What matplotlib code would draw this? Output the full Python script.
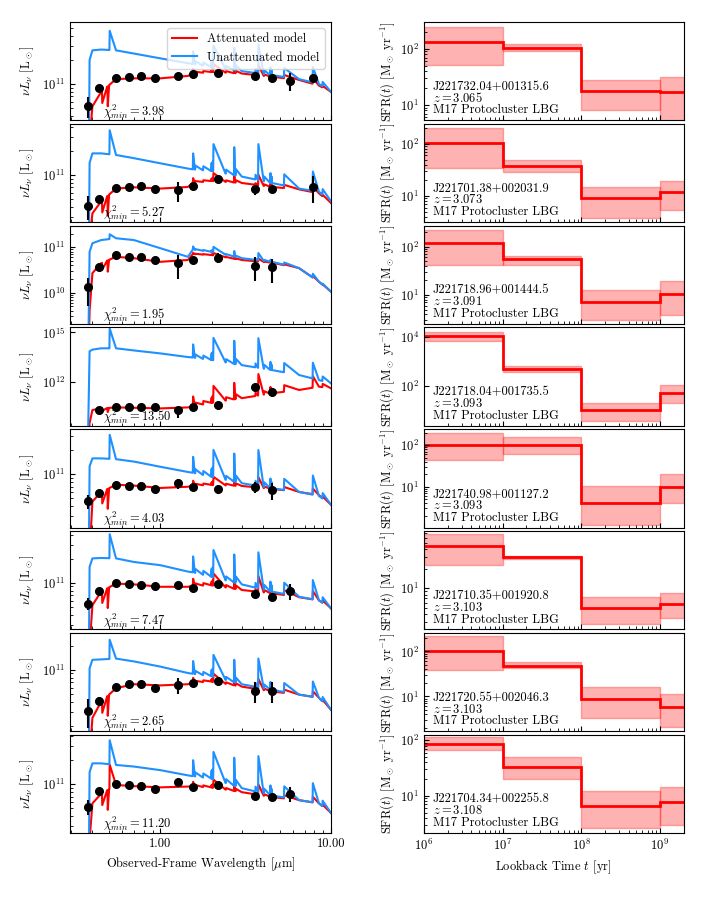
import numpy as np
import matplotlib
matplotlib.use('Agg')
import matplotlib.pyplot as plt
from matplotlib.ticker import NullFormatter, FormatStrFormatter

plt.rcParams['font.family'] = ['cmr10', 'DejaVu Serif']
plt.rcParams['mathtext.fontset'] = 'cm'
plt.rcParams['axes.formatter.use_mathtext'] = True
plt.rcParams['axes.unicode_minus'] = False
plt.rcParams['font.size'] = 9

# ---- galaxy info
names = ["J221732.04+001315.6", "J221701.38+002031.9", "J221718.96+001444.5",
         "J221718.04+001735.5", "J221740.98+001127.2", "J221710.35+001920.8",
         "J221720.55+002046.3", "J221704.34+002255.8"]
redshifts = [3.065, 3.073, 3.091, 3.093, 3.093, 3.103, 3.103, 3.108]
chi2 = [3.98, 5.27, 1.95, 13.50, 4.03, 7.47, 2.65, 11.20]

# ---- photometry (micron, units of 1e10 Lsun), nan = no detection
phot_lam = [0.379, 0.438, 0.548, 0.654, 0.773, 0.925, 1.27, 1.55, 2.17, 3.59, 4.54, 5.76, 7.87]
nan = np.nan
phot = [
    [5.3, 9.0, 12.0, 12.2, 12.6, 11.8, 12.6, 13.2, 13.8, 12.6, 12.0, 10.9, 11.8],
    [4.1, 5.0, 6.8, 7.0, 7.3, 6.7, 6.4, 7.35, 8.8, 6.6, 6.7, nan, 7.0],
    [1.31, 3.7, 6.8, 6.2, 6.1, 5.2, 4.4, 5.2, 5.9, 3.9, 3.6, nan, nan],
    [nan, 1.9, 2.8, 3.0, 3.0, 2.8, 1.8, 3.0, 3.8, 50.0, 25.0, nan, nan],
    [4.6, 5.9, 7.35, 7.2, 7.15, 6.5, 7.7, 6.9, 6.55, 6.9, 6.3, nan, nan],
    [5.5, 7.9, 9.8, 9.7, 9.5, 9.0, 9.4, 8.7, 9.6, 7.2, 6.6, 7.9, nan],
    [3.1, 4.1, 6.1, 6.6, 6.7, 6.0, 6.5, 6.8, 7.2, 5.5, 5.5, nan, nan],
    [5.2, 8.2, 10.0, 9.8, 9.4, 8.8, 10.5, 9.2, 9.9, 7.2, 6.9, 7.6, nan],
]
phot_err = [
    [1.5, 0.5, 0.3, 0.3, 0.3, 0.3, 0.3, 0.4, 0.4, 0.4, 0.5, 2.7, 1.6],
    [1.4, 0.4, 0.3, 0.3, 0.3, 0.3, 1.85, 0.4, 0.6, 0.95, 0.6, nan, 2.6],
    [0.8, 0.6, 0.4, 0.3, 0.3, 0.3, 2.4, 0.5, 1.5, 2.1, 2.0, nan, nan],
    [nan, 0.2, 0.2, 0.2, 0.2, 0.2, 1.2, 0.2, 0.3, 3.0, 2.0, nan, nan],
    [0.95, 0.4, 0.3, 0.3, 0.3, 0.3, 1.1, 0.4, 0.9, 1.1, 1.45, nan, nan],
    [0.95, 0.4, 0.3, 0.3, 0.3, 0.3, 0.4, 0.4, 0.4, 0.8, 0.75, 1.8, nan],
    [1.25, 0.5, 0.3, 0.3, 0.3, 0.3, 1.5, 0.4, 0.8, 1.6, 1.6, nan, nan],
    [1.1, 0.4, 0.3, 0.3, 0.3, 0.3, 0.4, 0.4, 0.4, 0.4, 0.4, 1.6, nan],
]

# ---- model continua, log10(nu L_nu / Lsun) at anchor wavelengths
lam_cont = np.array([0.376, 0.385, 0.40, 0.45, 0.55, 0.70, 1.0, 1.45, 1.55, 2.0, 3.0, 4.5, 6.5, 8.5, 10.0])
blue_cont = [
    [8.5, 11.30, 11.42, 11.43, 11.42, 11.38, 11.32, 11.26, 11.25, 11.21, 11.16, 11.11, 11.06, 11.00, 10.90],
    [8.5, 11.15, 11.27, 11.27, 11.25, 11.21, 11.146, 11.08, 11.07, 11.05, 10.98, 10.90, 10.83, 10.79, 10.67],
    [8.0, 10.90, 11.09, 11.16, 11.20, 11.16, 10.98, 10.79, 10.95, 10.90, 10.76, 10.68, 10.54, 10.24, 10.02],
    [8.0, 13.85, 13.95, 14.03, 14.03, 13.90, 13.72, 13.50, 13.47, 13.32, 13.01, 12.71, 12.41, 12.10, 11.90],
    [8.5, 11.10, 11.20, 11.20, 11.19, 11.16, 11.095, 11.03, 11.02, 10.97, 10.89, 10.825, 10.78, 10.73, 10.62],
    [8.5, 11.20, 11.305, 11.31, 11.305, 11.26, 11.22, 11.14, 11.13, 11.075, 10.98, 10.89, 10.825, 10.78, 10.68],
    [8.5, 11.02, 11.125, 11.13, 11.14, 11.105, 11.04, 10.96, 10.95, 10.92, 10.82, 10.75, 10.69, 10.65, 10.50],
    [8.5, 11.15, 11.26, 11.26, 11.24, 11.22, 11.175, 11.11, 11.10, 11.07, 10.95, 10.86, 10.80, 10.76, 10.64],
]
red_cont = [
    [8.5, 10.30, 10.72, 10.90, 11.06, 11.07, 11.07, 11.10, 11.13, 11.15, 11.13, 11.09, 11.05, 10.98, 10.90],
    [8.5, 10.20, 10.52, 10.67, 10.83, 10.846, 10.83, 10.85, 10.90, 10.925, 10.90, 10.85, 10.82, 10.77, 10.65],
    [8.0, 9.60, 10.43, 10.65, 10.79, 10.76, 10.68, 10.72, 10.85, 10.83, 10.72, 10.66, 10.54, 10.24, 10.02],
    [8.0, 9.50, 10.28, 10.38, 10.44, 10.42, 10.38, 10.44, 10.50, 10.73, 11.00, 11.30, 11.50, 11.70, 11.60],
    [8.5, 10.00, 10.66, 10.78, 10.87, 10.86, 10.83, 10.845, 10.86, 10.87, 10.855, 10.82, 10.78, 10.74, 10.62],
    [8.5, 10.20, 10.72, 10.89, 10.99, 10.98, 10.95, 10.95, 10.96, 10.97, 10.91, 10.87, 10.82, 10.78, 10.68],
    [8.5, 9.90, 10.40, 10.60, 10.77, 10.82, 10.805, 10.82, 10.84, 10.855, 10.79, 10.73, 10.69, 10.65, 10.50],
    [8.5, 10.30, 10.76, 10.88, 10.99, 10.975, 10.96, 10.97, 10.97, 10.96, 10.90, 10.84, 10.80, 10.76, 10.64],
]

# emission lines (observed micron) and peak heights above continuum (dex)
line_lam = [0.503, 1.55, 1.60, 1.78, 1.99, 2.02, 2.04, 2.42, 2.70, 2.76, 3.60, 3.74, 4.05, 4.40, 4.47, 5.30, 7.80, 8.90]
line_blue = [0.30, 0.20, 0.05, 0.05, 0.10, 0.12, 0.34, 0.05, 0.35, 0.08, 0.06, 0.45, 0.06, 0.12, 0.08, 0.14, 0.24, 0.07]
line_red = [0.0, 0.06, 0.02, 0.02, 0.03, 0.04, 0.10, 0.02, 0.10, 0.03, 0.02, 0.13, 0.02, 0.04, 0.03, 0.04, 0.07, 0.02]
boost_blue = [0.8, 1.0, 0.35, 4.0, 1.0, 1.0, 0.8, 1.0]
boost_red = [1.0, 1.0, 0.5, 10.0, 1.0, 1.5, 1.0, 1.0]
red_lya = [0.0, 0.0, 0.0, 0.0, 0.0, 0.0, 0.0, 0.3]
dip_lam = [0.455, 0.49]
dip_dex = [-0.15, -0.25]

sed_ylim = [(10.546, 11.775), (10.411, 11.64), (9.309, 11.479), (9.328, 15.297),
            (10.335, 11.564), (10.4175, 11.646), (10.2325, 11.461), (10.389, 11.6175)]

# ---- star formation histories
bin_edges = [1e6, 1e7, 1e8, 1e9, 2e9]
sfr = [[135, 103, 18, 17], [103, 38, 9.3, 11.7], [118, 55, 7.3, 10.3], [11000, 470, 10, 52],
       [100, 104, 4.0, 10], [45, 30, 5.0, 5.7], [100, 48, 8.7, 5.8], [87, 33, 6.5, 7.9]]
sfr_lo = [[52, 90, 8.2, 4.5], [34, 29, 3.7, 5.4], [42, 42, 3.0, 3.9], [6900, 370, 3.5, 20],
          [43, 63, 1.2, 4.0], [23, 28, 2.8, 3.5], [39, 42, 3.3, 2.1], [66, 20, 2.7, 3.0]]
sfr_hi = [[250, 123, 28, 32], [200, 49, 15, 19.6], [223, 65, 12.7, 19.5], [15000, 630, 20, 108],
          [193, 160, 10.2, 20], [68, 32, 7.4, 8.6], [215, 57, 16, 11.2], [113, 49, 12.3, 14.5]]
sfh_ylim = [(5.33, 303), (3.15, 244), (2.52, 274), (2.33, 24000),
            (1.03, 243), (2.34, 76), (1.69, 258), (2.15, 125)]


def spectrum(logc, lams, heights, w=0.004):
    lams = np.asarray(lams)
    grid = np.concatenate([lam_cont, lams * (1 - w), lams, lams * (1 + w)])
    bump = np.concatenate([np.zeros(len(lam_cont) + 2 * len(lams)), heights])
    order = np.argsort(grid)
    grid = grid[order]
    flux = np.interp(np.log10(grid), np.log10(lam_cont), logc) + bump[order]
    return grid, 10 ** flux


fig = plt.figure(figsize=(7.2, 9), dpi=100)
gs = fig.add_gridspec(8, 1, left=0.0972, right=0.4597, top=0.9756, bottom=0.0744, hspace=0.036)
gs2 = fig.add_gridspec(8, 1, left=0.5889, right=0.9494, top=0.9756, bottom=0.0744, hspace=0.036)

for i in range(8):
    # SED panel
    ax = fig.add_subplot(gs[i])
    hb = np.array(line_blue) * boost_blue[i]
    hr = np.array(line_red) * boost_red[i]
    hr[0] = red_lya[i]
    lr, fr = spectrum(red_cont[i], line_lam + dip_lam, np.concatenate([hr, dip_dex]))
    lb, fb = spectrum(blue_cont[i], line_lam, hb)
    ax.plot(lr, fr, color='red', lw=1.5, label='Attenuated model')
    ax.plot(lb, fb, color='dodgerblue', lw=1.5, label='Unattenuated model')
    ax.errorbar(phot_lam, np.array(phot[i]) * 1e10, yerr=np.array(phot_err[i]) * 1e10,
                fmt='o', color='black', ms=5.5, elinewidth=1.5, capsize=0, zorder=5)
    ax.set_xscale('log')
    ax.set_yscale('log')
    ax.set_xlim(0.2955, 10)
    ax.set_ylim(10 ** sed_ylim[i][0], 10 ** sed_ylim[i][1])
    if i == 3:
        ax.set_yticks([1e12, 1e15])
    ax.yaxis.set_minor_formatter(NullFormatter())
    ax.xaxis.set_major_formatter(FormatStrFormatter('%.2f'))
    ax.xaxis.set_minor_formatter(NullFormatter())
    ax.tick_params(which='both', direction='in')
    ax.set_ylabel(r'$\nu L_\nu$ [L$_\odot$]')
    ax.yaxis.set_label_coords(-0.13, 0.5)
    ax.text(0.126, 0.05, r'$\chi^2_{min} = %.2f$' % chi2[i], transform=ax.transAxes,
            va='baseline', ha='left')
    if i == 0:
        ax.legend(loc='upper right', fontsize=9)
    if i < 7:
        ax.tick_params(labelbottom=False)
    else:
        ax.set_xlabel(r'Observed-Frame Wavelength [$\mu$m]')

    # SFH panel
    ax2 = fig.add_subplot(gs2[i])
    for j in range(4):
        ax2.fill_between(bin_edges[j:j + 2], [sfr_lo[i][j]] * 2, [sfr_hi[i][j]] * 2,
                         color='red', alpha=0.3, lw=1)
    ax2.stairs(sfr[i], bin_edges, baseline=None, color='red', lw=2)
    ax2.set_xscale('log')
    ax2.set_yscale('log')
    ax2.set_xlim(1e6, 2e9)
    ax2.set_ylim(*sfh_ylim[i])
    if i == 3:
        ax2.set_yticks([1e2, 1e4])
    ax2.yaxis.set_minor_formatter(NullFormatter())
    ax2.tick_params(which='both', direction='in')
    ax2.set_ylabel(r'SFR$(t)$ [M$_\odot$ yr$^{-1}$]')
    ax2.yaxis.set_label_coords(-0.105, 0.5)
    ax2.text(0.034, 0.31, names[i], transform=ax2.transAxes, va='baseline')
    ax2.text(0.034, 0.19, r'$z = %.3f$' % redshifts[i], transform=ax2.transAxes, va='baseline')
    ax2.text(0.034, 0.07, 'M17 Protocluster LBG', transform=ax2.transAxes, va='baseline')
    if i < 7:
        ax2.tick_params(labelbottom=False)
    else:
        ax2.set_xlabel(r'Lookback Time $t$ [yr]')

fig.savefig('out.png', dpi=100)
